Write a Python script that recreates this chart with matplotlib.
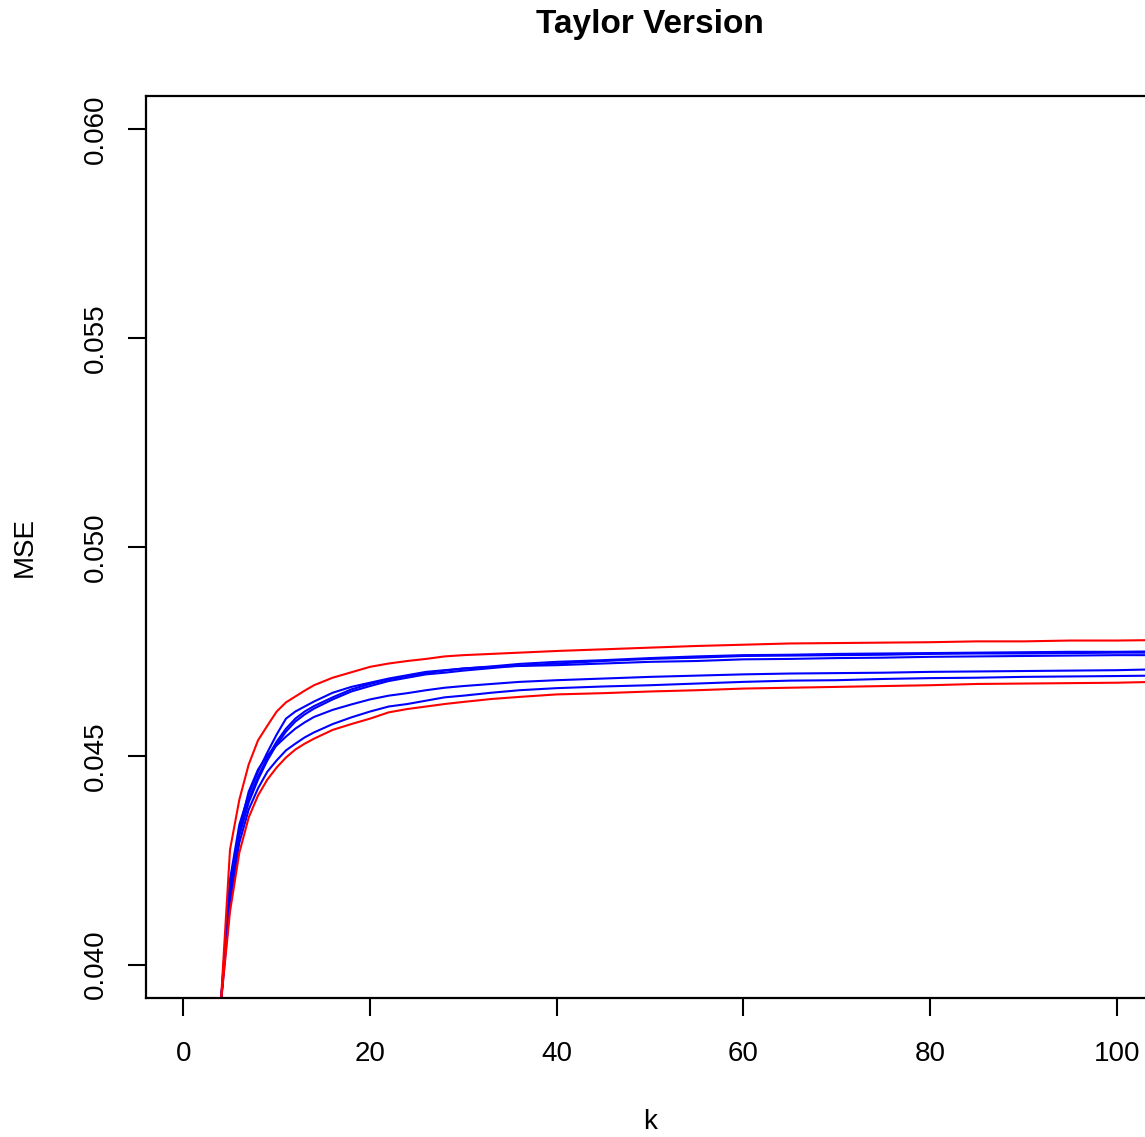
import matplotlib
matplotlib.use("Agg")
import matplotlib.pyplot as plt

plt.rcParams['font.family'] = ['Liberation Sans', 'DejaVu Sans']

k = [4, 5, 6, 7, 8, 9, 10, 11, 12, 13, 14, 16, 18, 20, 22, 24, 26, 28, 30, 33,
     36, 40, 45, 50, 55, 60, 65, 70, 75, 80, 85, 90, 95, 100, 104]

red_upper = [0.03902, 0.04275, 0.04395, 0.04479, 0.04537, 0.04572, 0.04606, 0.04628,
             0.04642, 0.04656, 0.04669, 0.04687, 0.04700, 0.04713, 0.04721, 0.04727,
             0.04732, 0.04738, 0.04741, 0.04744, 0.04747, 0.04751, 0.04755, 0.04759,
             0.04763, 0.04766, 0.04769, 0.04770, 0.04771, 0.04772, 0.04774, 0.04774,
             0.04776, 0.04776, 0.04777]

red_lower = [0.03902, 0.04127, 0.04268, 0.04352, 0.04405, 0.04443, 0.04472, 0.04496,
             0.04515, 0.04529, 0.04541, 0.04562, 0.04576, 0.04589, 0.04604, 0.04612,
             0.04618, 0.04624, 0.04629, 0.04636, 0.04641, 0.04647, 0.04650, 0.04654,
             0.04657, 0.04661, 0.04663, 0.04665, 0.04667, 0.04669, 0.04672, 0.04673,
             0.04674, 0.04675, 0.04677]

blue_a = [0.03902, 0.04192, 0.04319, 0.04395, 0.04450, 0.04496, 0.04534, 0.04565,
          0.04589, 0.04606, 0.04619, 0.04640, 0.04659, 0.04672, 0.04683, 0.04691,
          0.04698, 0.04704, 0.04709, 0.04714, 0.04720, 0.04725, 0.04729, 0.04734,
          0.04738, 0.04741, 0.04742, 0.04744, 0.04745, 0.04746, 0.04747, 0.04748,
          0.04749, 0.04749, 0.04750]

blue_b = [0.03902, 0.04168, 0.04309, 0.04388, 0.04443, 0.04489, 0.04527, 0.04558,
          0.04582, 0.04599, 0.04613, 0.04635, 0.04654, 0.04667, 0.04679, 0.04687,
          0.04695, 0.04699, 0.04704, 0.04710, 0.04716, 0.04721, 0.04727, 0.04732,
          0.04735, 0.04739, 0.04740, 0.04741, 0.04742, 0.04744, 0.04745, 0.04745,
          0.04746, 0.04747, 0.04747]

blue_c = [0.03902, 0.04204, 0.04335, 0.04407, 0.04462, 0.04508, 0.04551, 0.04589,
          0.04606, 0.04618, 0.04630, 0.04651, 0.04665, 0.04675, 0.04685, 0.04693,
          0.04701, 0.04705, 0.04709, 0.04713, 0.04715, 0.04717, 0.04721, 0.04725,
          0.04727, 0.04731, 0.04732, 0.04734, 0.04735, 0.04737, 0.04738, 0.04739,
          0.04740, 0.04741, 0.04741]

blue_d = [0.03902, 0.04180, 0.04323, 0.04414, 0.04467, 0.04501, 0.04525, 0.04546,
          0.04565, 0.04580, 0.04593, 0.04610, 0.04623, 0.04635, 0.04644, 0.04650,
          0.04657, 0.04663, 0.04667, 0.04672, 0.04677, 0.04681, 0.04685, 0.04689,
          0.04692, 0.04695, 0.04697, 0.04698, 0.04699, 0.04701, 0.04702, 0.04703,
          0.04704, 0.04705, 0.04707]

blue_e = [0.03902, 0.04144, 0.04292, 0.04371, 0.04422, 0.04462, 0.04489, 0.04513,
          0.04529, 0.04544, 0.04556, 0.04576, 0.04592, 0.04606, 0.04618, 0.04624,
          0.04632, 0.04640, 0.04644, 0.04651, 0.04657, 0.04662, 0.04666, 0.04669,
          0.04673, 0.04677, 0.04680, 0.04681, 0.04684, 0.04686, 0.04687, 0.04689,
          0.04690, 0.04691, 0.04692]

x_ticks = [0, 20, 40, 60, 80, 100]
y_ticks = [0.040, 0.045, 0.050, 0.055, 0.060]
y_tick_labels = ["0.040", "0.045", "0.050", "0.055", "0.060"]

W, H = 1145, 1137
fig = plt.figure(figsize=(W / 100, H / 100), dpi=100)
left, right, top, bottom = 146, 1154, 96, 998
ax = fig.add_axes([left / W, (H - bottom) / H, (right - left) / W, (bottom - top) / H])

for s in [blue_a, blue_b, blue_c, blue_d, blue_e]:
    ax.plot(k, s, color='#0000FF', lw=1.5, solid_joinstyle='round')
for s in [red_upper, red_lower]:
    ax.plot(k, s, color='#FF0000', lw=1.5, solid_joinstyle='round')

ax.set_xlim(-4, 104)
ax.set_ylim(0.0392, 0.0608)
ax.set_xticks(x_ticks)
ax.set_xticklabels([str(v) for v in x_ticks])
ax.set_yticks(y_ticks)
ax.set_yticklabels(y_tick_labels, rotation=90, va='center')

for sp in ax.spines.values():
    sp.set_linewidth(1.6)
ax.tick_params(axis='both', direction='out', length=13, width=1.5, labelsize=20)
ax.tick_params(axis='x', pad=18)
ax.tick_params(axis='y', pad=14)

fig.text(650 / W, 1 - 25 / H, "Taylor Version", ha='center', va='center',
         fontsize=24, fontweight='bold')
fig.text(650 / W, 1 - 1122 / H, "k", ha='center', va='center', fontsize=20)
fig.text(25 / W, 1 - 547 / H, "MSE", ha='center', va='center', fontsize=20, rotation=90)

fig.savefig("out.png", dpi=100)
